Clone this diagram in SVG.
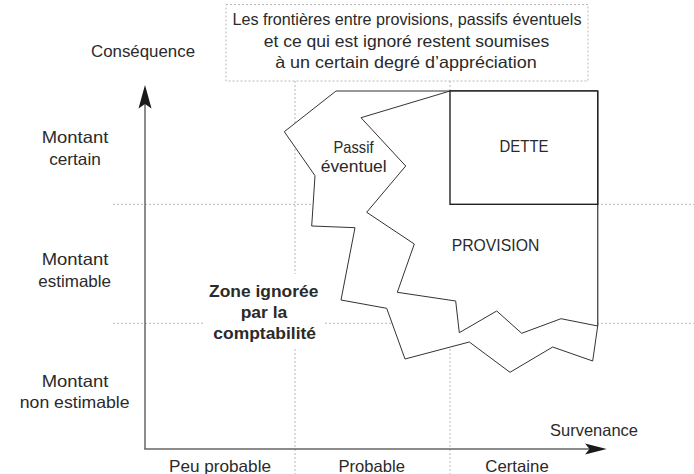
<svg xmlns="http://www.w3.org/2000/svg" width="694" height="474" viewBox="0 0 694 474">
<style>
  .grid { stroke: #b8b8b8; stroke-width: 1; stroke-dasharray: 2 2; fill: none; }
  .axis { stroke: #666; stroke-width: 1.5; fill: none; }
  .head { fill: #1a1a1a; stroke: none; }
  .shape { fill: #fff; stroke: #333; stroke-width: 1; stroke-linejoin: miter; }
  .box { fill: #fff; stroke: #222; stroke-width: 1.4; }
  text { font-family: "Liberation Sans", Arial, sans-serif; font-size: 16.5px; fill: #2a2a2a; text-anchor: middle; }
  .bold { font-weight: bold; }
</style>
<rect x="0" y="0" width="694" height="474" fill="#fff"/>

<g id="grid">
  <line class="grid" x1="295" y1="81" x2="295" y2="474"/>
  <line class="grid" x1="450" y1="81" x2="450" y2="474"/>
  <line class="grid" x1="113" y1="204.3" x2="694" y2="204.3"/>
  <line class="grid" x1="113" y1="323.3" x2="694" y2="323.3"/>
</g>

<g id="note">
  <rect class="grid" x="226" y="4.5" width="362" height="76.5" fill="#fff"/>
  <text x="407" y="25" textLength="349" lengthAdjust="spacingAndGlyphs">Les frontières entre provisions, passifs éventuels</text>
  <text x="406.5" y="46.5" textLength="285.7" lengthAdjust="spacingAndGlyphs">et ce qui est ignoré restent soumises</text>
  <text x="406" y="68" textLength="261.7" lengthAdjust="spacingAndGlyphs">à un certain degré d’appréciation</text>
</g>

<g id="passif-eventuel">
  <polygon class="shape" points="336,91 597.7,91 597.7,326 592.7,361 552.7,347 510,372.3 469.3,342 405,359 386.7,308.3 341,300 355,227.7 311.7,226 315,175.7 284.3,131.7"/>
  <text x="353.5" y="152.7" textLength="40" lengthAdjust="spacingAndGlyphs">Passif</text>
  <text x="353.7" y="171.5" textLength="66" lengthAdjust="spacingAndGlyphs">éventuel</text>
</g>

<g id="provision">
  <polygon class="shape" points="450,91 361,117.7 405.7,166 366.7,212.3 414.3,244 397.3,292.3 455.7,301 459.3,332.7 496.7,311 521.7,333.3 561,318.7 597.7,326 597.7,91"/>
  <text x="495.5" y="250.7" textLength="87.6" lengthAdjust="spacingAndGlyphs">PROVISION</text>
</g>

<g id="dette">
  <rect class="box" x="450" y="91" width="147.7" height="113.3"/>
  <text x="524" y="151.7" textLength="49" lengthAdjust="spacingAndGlyphs">DETTE</text>
</g>

<g id="zone-ignoree">
  <rect x="204" y="274" width="121" height="74" fill="#fff"/>
  <text class="bold" x="263.7" y="296.5" textLength="109.3" lengthAdjust="spacingAndGlyphs">Zone ignorée</text>
  <text class="bold" x="264" y="317.5" textLength="46.6" lengthAdjust="spacingAndGlyphs">par la</text>
  <text class="bold" x="264.7" y="339" textLength="102.7" lengthAdjust="spacingAndGlyphs">comptabilité</text>
</g>

<g id="connectors">
  <line class="axis" x1="145" y1="100" x2="145" y2="449"/>
  <line class="axis" x1="144.25" y1="449" x2="590" y2="449"/>
  <path class="head" d="M145,85 L151.5,108.5 L145,104 L138.5,108.5 Z"/>
  <path class="head" d="M606.7,449 L585,454.5 L589.5,449 L585,443.5 Z"/>
</g>

<g id="axis-labels">
  <text x="143" y="56.7" textLength="104" lengthAdjust="spacingAndGlyphs">Conséquence</text>
  <text x="75" y="143.3" textLength="66.6" lengthAdjust="spacingAndGlyphs">Montant</text>
  <text x="75" y="165" textLength="51.7" lengthAdjust="spacingAndGlyphs">certain</text>
  <text x="75" y="265" textLength="66.6" lengthAdjust="spacingAndGlyphs">Montant</text>
  <text x="74.7" y="286.7" textLength="72.7" lengthAdjust="spacingAndGlyphs">estimable</text>
  <text x="75" y="386.7" textLength="66.6" lengthAdjust="spacingAndGlyphs">Montant</text>
  <text x="74.7" y="408.3" textLength="109.8" lengthAdjust="spacingAndGlyphs">non estimable</text>
  <text x="594" y="436" textLength="88" lengthAdjust="spacingAndGlyphs">Survenance</text>
  <text x="220" y="471.5" textLength="102" lengthAdjust="spacingAndGlyphs">Peu probable</text>
  <text x="371.7" y="471.5" textLength="66.5" lengthAdjust="spacingAndGlyphs">Probable</text>
  <text x="517" y="471.5" textLength="63.5" lengthAdjust="spacingAndGlyphs">Certaine</text>
</g>
</svg>
